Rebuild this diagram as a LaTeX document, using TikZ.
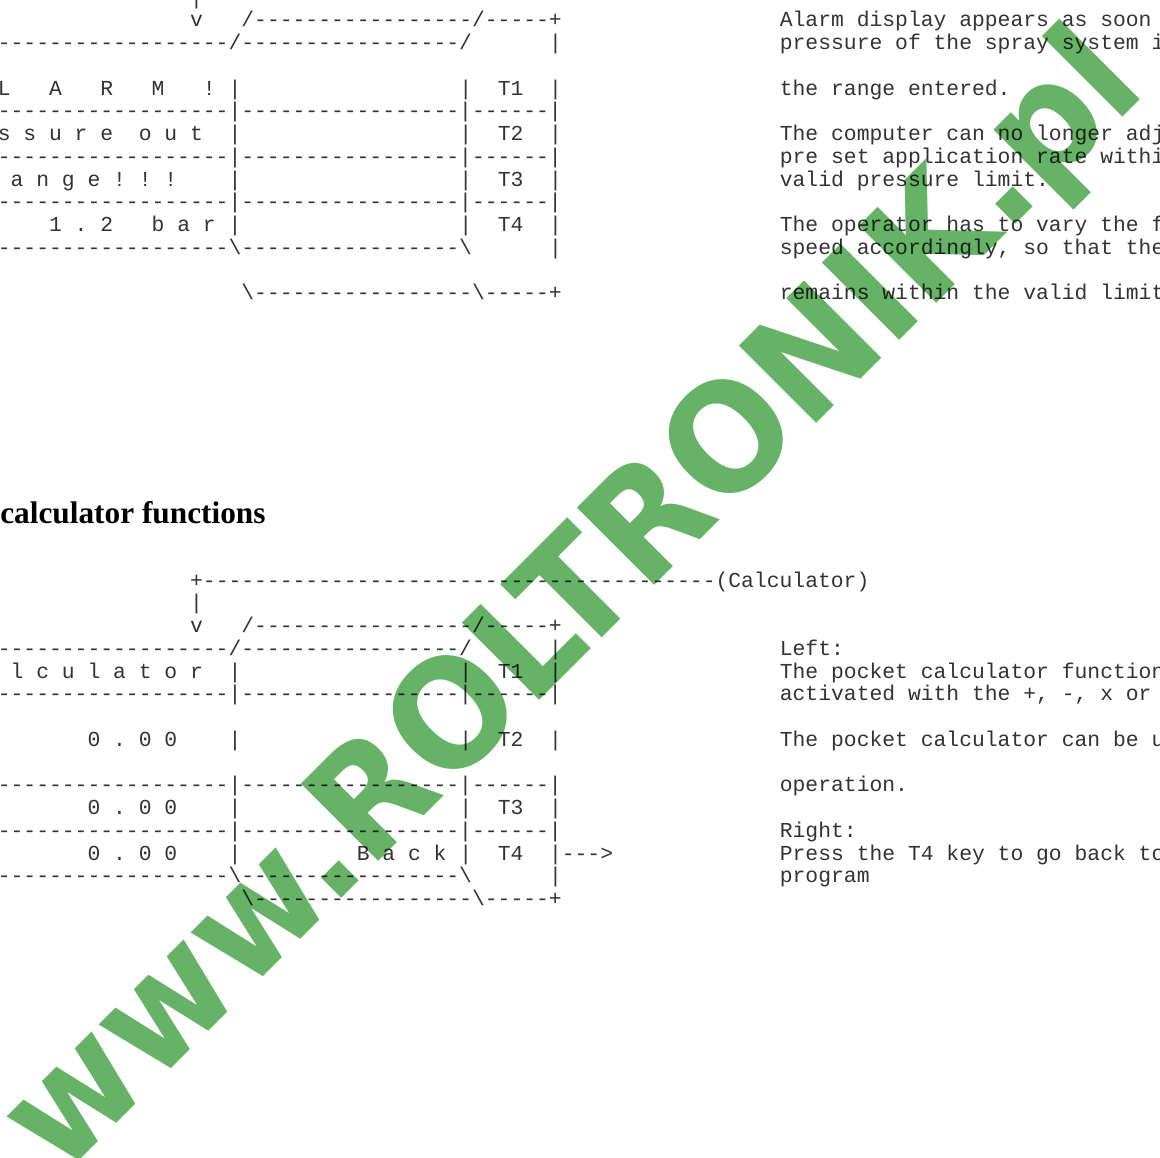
\documentclass[tikz,border=0pt]{standalone}
\usepackage{fontspec}
\usepackage{graphicx}
\setmonofont{Liberation Mono}
\newfontfamily\headfont{Liberation Serif}
\newfontfamily\wmfont{DejaVu Sans}
\ExplSyntaxOn
\NewDocumentCommand\rep{mm}{\prg_replicate:nn{#1}{#2}}
\ExplSyntaxOff
\definecolor{wmgreen}{RGB}{102,178,102}
\frenchspacing
\tikzset{
  mono/.style={font=\ttfamily\fontsize{21.36}{22}\selectfont, anchor=base west,
    inner sep=0pt, outer sep=0pt, text=black, text opacity=0.8},
  head/.style={font=\headfont\bfseries\fontsize{31.3}{32}\selectfont, anchor=base east,
    inner sep=0pt, outer sep=0pt, text=black},
  wm/.style={font=\wmfont\bfseries\fontsize{150}{150}\selectfont, anchor=base west,
    inner sep=0pt, outer sep=0pt, text=wmgreen, rotate=45}
}
\newcommand\seg[4]{\node[mono] (#1) at ({228.59+12.82*(#2)},{#3}) {#4};}
\newcommand\rowT[1]{27+22.75*(#1)}
\newcommand\rowB[1]{587+22.75*(#1)}
\begin{document}
\begin{tikzpicture}[x=1pt,y=-1pt]
\useasboundingbox (0,0) rectangle (1160,1158);
\clip (0,0) rectangle (1160,1158);
\fill[white] (0,0) rectangle (1160,1158);
% watermark
\node[wm] (wmark) at (61.5,1178.5) {\scalebox{0.94}[1]{www.ROLTRONIK.pl}};
% ---------------- top section (alarm)
\seg{ta0}{-3}{\rowT{-1}}{|}
\seg{ta1}{-3}{\rowT{0}}{v}
\seg{ta2}{1}{\rowT{0}}{/\rep{17}{-}/\rep{5}{-}+}
\seg{ta3}{-20}{\rowT{1}}{\rep{20}{-}/\rep{17}{-}/}
\seg{ta4}{25}{\rowT{1}}{|}
\seg{ta5}{-18}{\rowT{3}}{L~~~A~~~R~~~M~~~!~|}
\seg{ta6}{18}{\rowT{3}}{|~~T1~~|}
\seg{ta7}{-20}{\rowT{4}}{\rep{20}{-}|\rep{17}{-}|\rep{6}{-}|}
\seg{ta8}{-18}{\rowT{5}}{s~s~u~r~e~~o~u~t~~|}
\seg{ta9}{18}{\rowT{5}}{|~~T2~~|}
\seg{ta10}{-20}{\rowT{6}}{\rep{20}{-}|\rep{17}{-}|\rep{6}{-}|}
\seg{ta11}{-17}{\rowT{7}}{a~n~g~e~!~!~!~~~~|}
\seg{ta12}{18}{\rowT{7}}{|~~T3~~|}
\seg{ta13}{-20}{\rowT{8}}{\rep{20}{-}|\rep{17}{-}|\rep{6}{-}|}
\seg{ta14}{-14}{\rowT{9}}{1~.~2~~~b~a~r~|}
\seg{ta15}{18}{\rowT{9}}{|~~T4~~|}
\seg{ta16}{-20}{\rowT{10}}{\rep{20}{-}\textbackslash\rep{17}{-}\textbackslash}
\seg{ta17}{25}{\rowT{10}}{|}
\seg{ta18}{1}{\rowT{12}}{\textbackslash\rep{17}{-}\textbackslash\rep{5}{-}+}
% right text, top
\seg{tr0}{43}{\rowT{0}}{Alarm display appears as soon}
\seg{tr1}{43}{\rowT{1}}{pressure of the spray system i}
\seg{tr2}{43}{\rowT{3}}{the range entered.}
\seg{tr3}{43}{\rowT{5}}{The computer can no longer adj}
\seg{tr4}{43}{\rowT{6}}{pre set application rate withi}
\seg{tr5}{43}{\rowT{7}}{valid pressure limit.}
\seg{tr6}{43}{\rowT{9}}{The operator has to vary the f}
\seg{tr7}{43}{\rowT{10}}{speed accordingly, so that the}
\seg{tr8}{43}{\rowT{12}}{remains within the valid limit}
% heading
\node[head] (heading) at (265.5,523) {calculator functions};
% ---------------- bottom section (calculator)
\seg{ba0}{-3}{\rowB{0}}{+\rep{40}{-}(Calculator)}
\seg{ba1}{-3}{\rowB{1}}{|}
\seg{ba2}{-3}{\rowB{2}}{v}
\seg{ba3}{1}{\rowB{2}}{/\rep{17}{-}/\rep{5}{-}+}
\seg{ba4}{-20}{\rowB{3}}{\rep{20}{-}/\rep{17}{-}/}
\seg{ba5}{25}{\rowB{3}}{|}
\seg{ba6}{-17}{\rowB{4}}{l~c~u~l~a~t~o~r~~|}
\seg{ba7}{18}{\rowB{4}}{|~~T1~~|}
\seg{ba8}{-20}{\rowB{5}}{\rep{20}{-}|\rep{17}{-}|\rep{6}{-}|}
\seg{ba9}{-11}{\rowB{7}}{0~.~0~0~~~~|}
\seg{ba10}{18}{\rowB{7}}{|~~T2~~|}
\seg{ba11}{-20}{\rowB{9}}{\rep{20}{-}|\rep{17}{-}|\rep{6}{-}|}
\seg{ba12}{-11}{\rowB{10}}{0~.~0~0~~~~|}
\seg{ba13}{18}{\rowB{10}}{|~~T3~~|}
\seg{ba14}{-20}{\rowB{11}}{\rep{20}{-}|\rep{17}{-}|\rep{6}{-}|}
\seg{ba15}{-11}{\rowB{12}}{0~.~0~0~~~~|}
\seg{ba16}{10}{\rowB{12}}{B~a~c~k~|~~T4~~|--->}
\seg{ba17}{-20}{\rowB{13}}{\rep{20}{-}\textbackslash\rep{17}{-}\textbackslash}
\seg{ba18}{25}{\rowB{13}}{|}
\seg{ba19}{1}{\rowB{14}}{\textbackslash\rep{17}{-}\textbackslash\rep{5}{-}+}
% right text, bottom
\seg{br0}{43}{\rowB{3}}{Left:}
\seg{br1}{43}{\rowB{4}}{The pocket calculator function}
\seg{br2}{43}{\rowB{5}}{activated with the +, -, x or}
\seg{br3}{43}{\rowB{7}}{The pocket calculator can be u}
\seg{br4}{43}{\rowB{9}}{operation.}
\seg{br5}{43}{\rowB{11}}{Right:}
\seg{br6}{43}{\rowB{12}}{Press the T4 key to go back to}
\seg{br7}{43}{\rowB{13}}{program}
\end{tikzpicture}
\end{document}
